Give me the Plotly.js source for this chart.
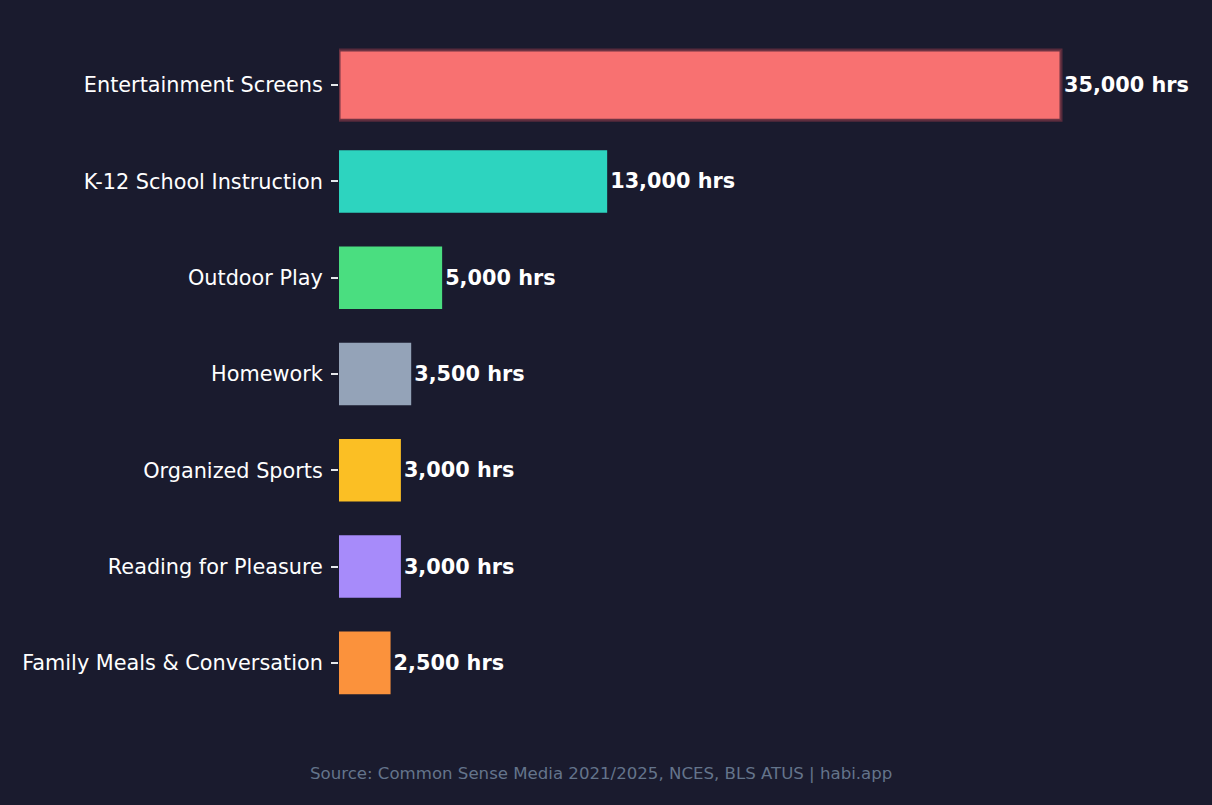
<!DOCTYPE html>
<html>
<head>
<meta charset="utf-8">
<script src="https://cdn.plot.ly/plotly-3.0.1.min.js"></script>
<style>html,body{margin:0;padding:0;background:#1a1b2e;}</style>
</head>
<body>
<div id="chart" style="width:1212px;height:805px;"></div>
<script>
const categories = ["Entertainment Screens","K-12 School Instruction","Outdoor Play","Homework","Organized Sports","Reading for Pleasure","Family Meals & Conversation"];
const hours = [35000, 13000, 5000, 3500, 3000, 3000, 2500];
const labels = ["35,000 hrs","13,000 hrs","5,000 hrs","3,500 hrs","3,000 hrs","3,000 hrs","2,500 hrs"];
const colors = ["#f87171","#2dd4bf","#4ade80","#94a3b8","#fbbf24","#a78bfa","#fb923c"];
const lineColors = ["rgba(95,45,62,0.9)","rgba(0,0,0,0)","rgba(0,0,0,0)","rgba(0,0,0,0)","rgba(0,0,0,0)","rgba(0,0,0,0)","rgba(0,0,0,0)"];
const lineWidths = [3,0,0,0,0,0,0];
const barWidths = [0.73,0.65,0.65,0.65,0.65,0.65,0.65];

const trace = {
  type: 'bar',
  orientation: 'h',
  y: categories,
  x: hours,
  text: labels,
  textposition: 'outside',
  textfont: {family: 'DejaVu Sans', size: 20.8, color: '#ffffff', weight: 'bold'},
  cliponaxis: false,
  width: barWidths,
  marker: {color: colors, line: {color: lineColors, width: lineWidths}},
  hoverinfo: 'none'
};

const layout = {
  width: 1212, height: 805,
  paper_bgcolor: '#1a1b2e',
  plot_bgcolor: '#1a1b2e',
  margin: {l: 339, r: 20, t: 37, b: 94},
  showlegend: false,
  font: {family: 'DejaVu Sans', color: '#ffffff'},
  xaxis: {
    range: [0, 41350],
    showgrid: false, zeroline: false, showticklabels: false, ticks: '', showline: false
  },
  yaxis: {
    autorange: 'reversed',
    showgrid: false, zeroline: false, showline: false,
    ticks: 'outside', ticklen: 7, tickcolor: '#e5e7eb', tickwidth: 2,
    ticklabelstandoff: 4,
    tickfont: {family: 'DejaVu Sans', size: 20.8, color: '#ffffff'}
  },
  annotations: [{
    text: 'Source: Common Sense Media 2021/2025, NCES, BLS ATUS | habi.app',
    xref: 'paper', yref: 'paper', x: 0.3066, y: 0, xanchor: 'center', yanchor: 'middle',
    yshift: -62, showarrow: false,
    font: {family: 'DejaVu Sans', size: 16.6, color: '#64748b'}
  }]
};

Plotly.newPlot('chart', [trace], layout, {displayModeBar: false, staticPlot: true});
</script>
</body>
</html>
